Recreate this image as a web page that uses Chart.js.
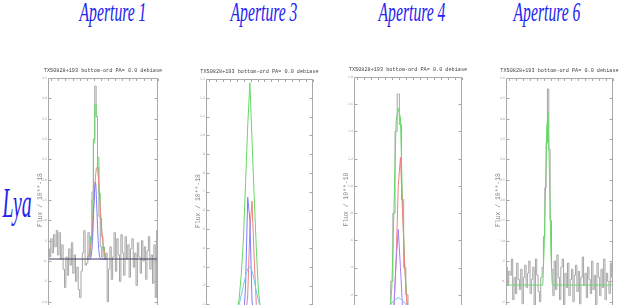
<!DOCTYPE html>
<html><head><meta charset="utf-8">
<script src="https://cdn.jsdelivr.net/npm/chart.js@4/dist/chart.umd.min.js"></script>
<style>
html,body{margin:0;padding:0;width:621px;height:305px;overflow:hidden;background:#fff;}
body{position:relative;}
.big{position:absolute;color:#2424ee;font-family:'Liberation Serif',serif;font-style:italic;white-space:nowrap;transform-origin:center center;}
canvas{position:absolute;}
</style></head><body>
<script>
// ---------------- DATA ----------------
const panelTitles = ['Aperture 1', 'Aperture 3', 'Aperture 4', 'Aperture 6'];
const rowLabel = 'Lya';
const plotTitle = 'TXS0828+193 bottom-ord PA= 0.0 debiase';
const yAxisTitle = 'Flux / 10**-18';

// Aperture 1: observed spectrum (80 bins) and Gaussian fit components
const ap1Flux = [
  0.30, 0.10, 0.55, 0.20, 0.65, 0.35, 0.75, 0.15, 0.70, 0.05,
  0.40, -0.20, -0.65, 0.10, -0.35, 0.30, -0.10, 0.45, -0.30, 0.15,
  -0.50, -0.15, -0.70, -0.90, -0.25, 0.20, 0.75, -0.10, -0.05, 0.70,
  0.10, 0.60, 1.70, 3.00, 4.30, 3.55, 2.30, 1.10, 0.35, 0.10,
  0.35, 0.05, 0.20, -1.00,
  -0.20, 0.35, -0.45, 0.10, 0.70, -0.25, 0.55, 0.15, -0.50, 0.65,
  0.20, -0.35, 0.60, 0.05, 0.40, -0.40, 0.30, 0.55, -0.15, 0.20,
  -0.60, 0.45, 0.10, -0.30, 0.50, 0.00, 0.35, -0.45, 0.25, 0.60,
  -0.20, 0.15, -0.55, 0.40, -0.90, 0.75
];
const ap1FitStart = 28;
const ap1FitTotal = [0.07, 0.12, 0.25, 0.60, 1.50, 2.90, 3.85, 3.55, 2.55, 1.67, 1.05, 0.60, 0.30, 0.14, 0.07];
const ap1FitRed   = [0.07, 0.12, 0.25, 0.50, 0.95, 1.50, 2.05, 2.30, 2.10, 1.60, 1.05, 0.60, 0.30, 0.14, 0.07];
const ap1FitBlue  = [0.05, 0.05, 0.05, 0.15, 0.60, 1.45, 1.94, 1.30, 0.50, 0.12, 0.05, 0.05, 0.05, 0.05, 0.05];
const ap1Continuum = 0.05;

// Aperture 3: fit components (50 bins, only the line region)
const ap3Bins = 50;
const ap3FitStart = 13;
const ap3FitTotal = [0.00, 0.06, 0.13, 0.26, 0.45, 0.75, 1.05, 1.28, 0.98, 0.68, 0.40, 0.17, 0.07, 0.02];
const ap3FitRed   = [0.00, 0.00, 0.00, 0.00, 0.00, 0.02, 0.15, 0.50, 0.65, 0.35, 0.10, 0.02, 0.00, 0.00];
const ap3FitBlue  = [0.00, 0.00, 0.00, 0.00, 0.00, 0.20, 0.67, 0.55, 0.12, 0.00, 0.00, 0.00, 0.00, 0.00];
const ap3FitCyan  = [0.02, 0.05, 0.10, 0.15, 0.20, 0.25, 0.29, 0.30, 0.28, 0.23, 0.17, 0.12, 0.08, 0.05];

// Aperture 4
const ap4Bins = 50;
const ap4FitStart = 15;
const ap4Flux     = [0.05, 0.10, 0.30, 0.80, 1.40, 1.675, 1.45, 0.90, 0.40, 0.20, 0.08, 0.00];
const ap4FitTotal = [0.02, 0.05, 0.25, 0.83, 1.48, 1.57, 1.50, 0.85, 0.42, 0.16, 0.06, 0.02];
const ap4FitRed   = [0.00, 0.00, 0.02, 0.10, 0.45, 1.00, 1.21, 0.80, 0.40, 0.12, 0.03, 0.00];
const ap4FitPurple= [0.00, 0.00, 0.02, 0.12, 0.45, 0.68, 0.40, 0.10, 0.00, 0.00, 0.00, 0.00];
const ap4FitCyan  = [0.10, 0.12, 0.14, 0.16, 0.17, 0.18, 0.17, 0.16, 0.14, 0.12, 0.10, 0.08];

// Aperture 6: observed spectrum (80 bins) and single-Gaussian fit
const ap6Flux = [
  0.35, -0.10, 0.25, 0.15, 0.55, -0.45, 0.10, -0.30, 0.45, 0.05,
  -0.20, 0.30, -0.55, 0.10, 0.40, -0.15, 0.20, 0.50, -0.30, 0.05,
  0.35, -0.60, 0.55, 0.15, -0.25, -0.50, 0.10,
  0.35, 1.10, 2.30, 3.40, 4.73, 3.25, 1.50, 0.30,
  -0.35, 0.50, -0.20, 0.65, 0.10, -0.45, 0.35, 0.55, -0.60, 0.20,
  -0.15, 0.45, -0.35, 0.05, 0.30, -0.50, 0.15, 0.40, -0.25, 0.25,
  -0.55, 0.10, 0.60, -0.10, 0.20, -0.40, 0.35, 0.05, -0.30, 0.50,
  -0.20, 0.15, -0.60, 0.45, 0.10, -0.35, 0.30, -0.15, 0.55, -0.45,
  0.20, 0.00, -0.30, 0.45, 0.10
];
const ap6FitStart = 26;
const ap6FitLine = [-0.09, -0.09, 0.80, 2.20, 3.80, 4.14, 2.60, 0.80, -0.05, -0.09];
const ap6Continuum = -0.09;

// y-axis ranges [min, max, step]
const ap1YAxis = [-1.5, 4.5, 0.5];
const ap3YAxis = [0.0, 1.3, 0.1];
const ap4YAxis = [0.0, 1.8, 0.2];
const ap6YAxis = [-1.0, 5.0, 0.5];

// ---------------- STYLE ----------------
const C = { grey: '#a6a6a6', green: '#66d866', red: '#f08080', blue: '#7c7cff', dark: '#3c3c5c', cyan: '#70c8f0', purple: '#a880f4' };

function binSeries(values, start) { return values.map((v, i) => ({ x: start + i + 0.5, y: v })); }
function ds(values, start, color, extra) {
  return Object.assign({ data: binSeries(values, start), borderColor: color, borderWidth: 1, pointRadius: 0, fill: false, tension: 0 }, extra || {});
}
function flat(value, nBins, color) {
  return { data: [{ x: 0, y: value }, { x: nBins, y: value }], borderColor: color, borderWidth: 1, pointRadius: 0, fill: false };
}
function withBase(line, start, base, nBins) {
  const out = [];
  for (let i = 0; i < nBins; i++) out.push(i >= start && i < start + line.length ? line[i - start] : base);
  return out;
}
function fmtTick(v) {
  const r = Math.round(v * 10) / 10;
  if (r === 0) return '0.';
  let s = r.toFixed(1);
  if (s.startsWith('0.')) s = s.slice(1);
  if (s.startsWith('-0.')) s = '-' + s.slice(2);
  return s;
}

const framePlugin = {
  id: 'frame',
  afterDatasetsDraw(chart) {
    const { ctx, chartArea: a, scales } = chart;
    ctx.save();
    ctx.strokeStyle = '#a8a8a8';
    ctx.lineWidth = 1;
    const L = Math.round(a.left) + 0.5, R = Math.round(a.right) - 0.5, T = Math.round(a.top) + 0.5, B = Math.round(a.bottom) - 0.5;
    ctx.beginPath();
    ctx.moveTo(L, T); ctx.lineTo(R, T); ctx.lineTo(R, B); ctx.lineTo(L, B); ctx.closePath();
    scales.y.ticks.forEach(t => {
      const y = Math.round(scales.y.getPixelForValue(t.value)) + 0.5;
      ctx.moveTo(L, y); ctx.lineTo(L + 3, y);
      ctx.moveTo(R, y); ctx.lineTo(R - 3, y);
    });
    const w = a.right - a.left;
    for (let f = 0.03; f < 1; f += 0.0645) {
      const x = Math.round(a.left + f * w) + 0.5;
      ctx.moveTo(x, T); ctx.lineTo(x, T + 2.5);
      ctx.moveTo(x, B); ctx.lineTo(x, B - 2.5);
    }
    ctx.stroke();
    ctx.restore();
  }
};

function buildChart(box, nBins, yAxis, datasets) {
  const AXW = 14, TH = 13, PB = 2;
  const pl = Math.round(box[0]), pt = Math.round(box[1]), pr = Math.round(box[2]), pb = Math.round(box[3]);
  const left = pl - AXW, top = pt - TH;
  const width = pr - pl + 2 * AXW, height = pb - pt + TH + PB;
  const cv = document.createElement('canvas');
  cv.width = width; cv.height = height;
  cv.style.left = left + 'px'; cv.style.top = top + 'px';
  cv.style.width = width + 'px'; cv.style.height = height + 'px';
  document.body.appendChild(cv);
  new Chart(cv, {
    type: 'line',
    data: { datasets },
    options: {
      responsive: false, animation: false, devicePixelRatio: 1,
      layout: { padding: { left: 0, right: 0, top: 0, bottom: PB } },
      plugins: {
        legend: { display: false }, tooltip: { enabled: false },
        title: { display: true, text: plotTitle, color: '#444444',
          font: { family: 'Liberation Mono', size: 5.2, lineHeight: 1.2, weight: 'normal' },
          padding: { top: 2, bottom: TH - 2 - 6.24 } }
      },
      scales: {
        x: { type: 'linear', display: false, min: 0, max: nBins },
        y: { type: 'linear', position: 'left', min: yAxis[0], max: yAxis[1],
          afterFit: s => { s.width = AXW; },
          grid: { display: false, drawTicks: false }, border: { display: false },
          ticks: { stepSize: yAxis[2], padding: 1, color: '#999999', autoSkip: false,
            font: { family: 'DejaVu Sans', size: 3.2 }, callback: fmtTick },
          title: { display: true, text: yAxisTitle, color: '#8c8c8c',
            font: { family: 'Liberation Mono', size: 6.4, lineHeight: 1.2 }, padding: { top: 2, bottom: 0 } } },
        y2: { type: 'linear', position: 'right', min: 0, max: 1, display: true,
          afterFit: s => { s.width = AXW; },
          grid: { display: false, drawTicks: false }, border: { display: false },
          ticks: { display: false } }
      }
    },
    plugins: [framePlugin]
  });
}

// ---------------- BIG LABELS ----------------
function bigText(text, cx, baseline, size, sx) {
  const d = document.createElement('div');
  d.className = 'big';
  d.textContent = text;
  d.style.fontSize = size + 'px';
  d.style.lineHeight = size + 'px';
  d.style.left = cx + 'px';
  d.style.top = (baseline - 0.8375 * size) + 'px';
  d.style.transform = 'translateX(-50%) scaleX(' + sx + ')';
  document.body.appendChild(d);
}
const titleCenters = [113, 264, 412, 547];
panelTitles.forEach((t, i) => bigText(t, titleCenters[i], 21.7, 28, 0.56));
bigText(rowLabel, 16.5, 216.7, 42, 0.47);

// ---------------- PANELS ----------------
const n1 = ap1Flux.length;
buildChart([48, 78, 158, 323], n1, ap1YAxis, [
  flat(ap1Continuum, n1, C.dark),
  ds(ap1FitBlue, ap1FitStart, C.blue, { tension: 0.4 }),
  ds(ap1FitRed, ap1FitStart, C.red, { tension: 0.4 }),
  ds(ap1FitTotal, ap1FitStart, C.green, { stepped: 'middle' }),
  ds(ap1Flux, 0, C.grey, { stepped: 'middle' })
]);

buildChart([206, 79, 313, 324], ap3Bins, ap3YAxis, [
  ds(ap3FitCyan, ap3FitStart, C.cyan),
  ds(ap3FitBlue, ap3FitStart, C.blue),
  ds(ap3FitRed, ap3FitStart, C.red),
  ds(ap3FitTotal, ap3FitStart, C.green)
]);

buildChart([354, 77, 462, 323], ap4Bins, ap4YAxis, [
  ds(ap4FitCyan, ap4FitStart, C.cyan),
  ds(ap4FitPurple, ap4FitStart, C.purple),
  ds(ap4FitRed, ap4FitStart, C.red),
  ds(ap4FitTotal, ap4FitStart, C.green),
  ds(ap4Flux, ap4FitStart, C.grey, { stepped: 'middle' })
]);

const n6 = ap6Flux.length;
buildChart([506, 78, 613, 323], n6, ap6YAxis, [
  ds(withBase(ap6FitLine, ap6FitStart, ap6Continuum, n6), 0, C.green),
  ds(ap6Flux, 0, C.grey, { stepped: 'middle' })
]);
</script>
</body></html>
